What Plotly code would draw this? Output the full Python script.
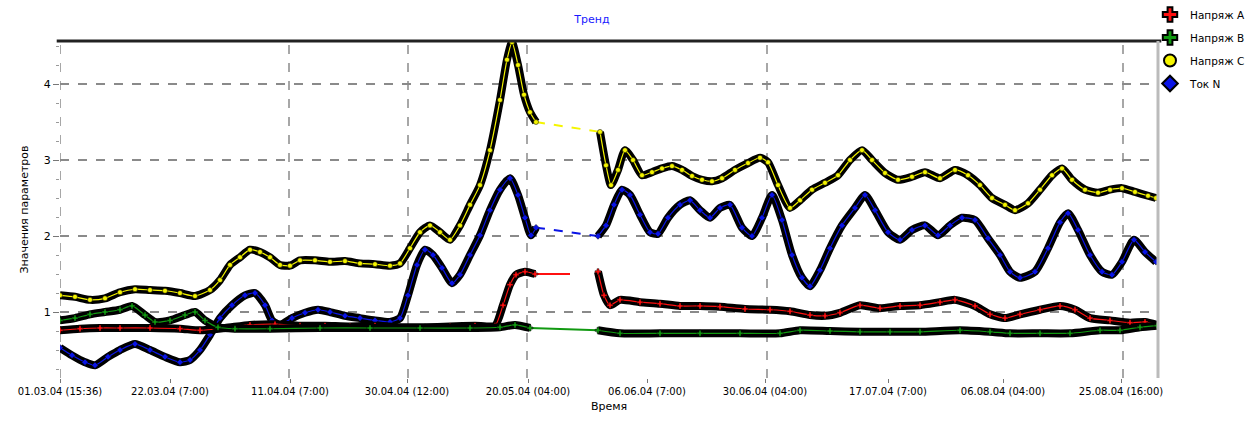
import plotly.graph_objects as go

# Sample position (time index) and values, two recorded segments per channel
yel_t1 = [0, 15, 30, 45, 60, 75, 90, 105, 120, 135, 150, 160, 170, 180, 190, 200, 210, 220, 230, 240, 255, 270,
          285, 300, 315, 330, 340, 350, 360, 370, 380, 390, 400, 410, 420, 430, 440, 447, 452, 458, 464, 470, 476]
yel_v1 = [1.22, 1.20, 1.16, 1.18, 1.26, 1.30, 1.29, 1.28, 1.25, 1.21, 1.29, 1.42, 1.62, 1.72, 1.82, 1.79, 1.72,
          1.62, 1.61, 1.68, 1.68, 1.66, 1.67, 1.64, 1.63, 1.61, 1.64, 1.84, 2.05, 2.14, 2.05, 1.95, 2.14, 2.41,
          2.67, 3.13, 3.79, 4.32, 4.55, 4.25, 3.86, 3.63, 3.50]
yel_t2 = [540, 546, 551, 558, 565, 573, 582, 592, 602, 612, 622, 632, 642, 652, 662, 675, 688, 700, 708, 718, 730,
          740, 752, 765, 778, 790, 802, 812, 825, 838, 852, 865, 880, 895, 908, 920, 932, 945, 955, 968, 980, 992,
          1002, 1012, 1025, 1038, 1050, 1062, 1075, 1088, 1096]
yel_v2 = [3.37, 2.93, 2.67, 2.87, 3.13, 3.00, 2.80, 2.84, 2.89, 2.92, 2.87, 2.79, 2.74, 2.72, 2.76, 2.87, 2.96,
          3.03, 2.97, 2.67, 2.37, 2.47, 2.61, 2.70, 2.80, 3.00, 3.13, 3.00, 2.83, 2.74, 2.78, 2.84, 2.76, 2.87,
          2.80, 2.67, 2.50, 2.41, 2.34, 2.43, 2.61, 2.80, 2.89, 2.74, 2.61, 2.57, 2.61, 2.63, 2.58, 2.53, 2.50]

blu_t1 = [0, 12, 25, 35, 48, 60, 75, 90, 105, 120, 130, 140, 150, 160, 172, 185, 195, 205, 212, 220, 232, 245,
          258, 270, 285, 300, 315, 330, 340, 348, 357, 365, 373, 382, 392, 400, 410, 420, 430, 440, 450, 458, 465,
          471, 476]
blu_v1 = [0.53, 0.43, 0.34, 0.30, 0.41, 0.50, 0.58, 0.50, 0.41, 0.34, 0.37, 0.50, 0.70, 0.92, 1.09, 1.22, 1.25,
          1.09, 0.89, 0.83, 0.92, 0.99, 1.03, 1.00, 0.95, 0.92, 0.89, 0.87, 0.92, 1.22, 1.62, 1.82, 1.75, 1.58,
          1.38, 1.49, 1.75, 2.01, 2.34, 2.61, 2.76, 2.54, 2.24, 2.01, 2.11]
blu_t2 = [538, 546, 554, 562, 570, 580, 590, 598, 608, 620, 630, 640, 650, 660, 670, 682, 692, 702, 712, 722, 732,
          742, 750, 760, 770, 782, 795, 805, 815, 828, 840, 852, 865, 878, 890, 902, 915, 928, 940, 950, 960, 975,
          988, 1000, 1008, 1018, 1030, 1042, 1052, 1062, 1074, 1085, 1096]
blu_v2 = [2.00, 2.14, 2.41, 2.61, 2.54, 2.28, 2.05, 2.03, 2.24, 2.41, 2.47, 2.34, 2.24, 2.37, 2.41, 2.11, 2.00,
          2.24, 2.54, 2.21, 1.75, 1.45, 1.34, 1.55, 1.84, 2.14, 2.37, 2.54, 2.34, 2.05, 1.95, 2.08, 2.14, 2.01,
          2.14, 2.24, 2.21, 1.97, 1.75, 1.53, 1.45, 1.53, 1.84, 2.18, 2.30, 2.08, 1.75, 1.53, 1.49, 1.66, 1.95,
          1.79, 1.66]

red_t1 = [0, 20, 40, 60, 90, 120, 140, 165, 190, 215, 240, 265, 290, 315, 340, 365, 390, 415, 435, 443, 450, 456,
          465, 475]
red_v1 = [0.76, 0.78, 0.79, 0.79, 0.79, 0.78, 0.76, 0.79, 0.83, 0.84, 0.82, 0.82, 0.81, 0.82, 0.80, 0.80, 0.81,
          0.82, 0.82, 1.09, 1.36, 1.49, 1.53, 1.50]
red_t2 = [538, 544, 550, 560, 580, 600, 620, 640, 660, 685, 710, 730, 750, 765, 780, 800, 820, 840, 860, 880, 895,
          915, 930, 945, 960, 980, 1000, 1015, 1030, 1050, 1070, 1085, 1097]
red_v2 = [1.53, 1.22, 1.09, 1.16, 1.13, 1.11, 1.08, 1.08, 1.07, 1.04, 1.03, 1.01, 0.96, 0.95, 0.99, 1.09, 1.05,
          1.08, 1.09, 1.13, 1.16, 1.08, 0.97, 0.92, 0.97, 1.03, 1.08, 1.03, 0.92, 0.89, 0.86, 0.87, 0.83]

grn_t1 = [0, 15, 30, 45, 60, 72, 85, 95, 110, 125, 135, 145, 158, 175, 210, 260, 310, 360, 410, 440, 455, 470]
grn_v1 = [0.89, 0.92, 0.97, 1.00, 1.03, 1.08, 0.96, 0.87, 0.89, 0.96, 1.00, 0.89, 0.80, 0.78, 0.78, 0.79, 0.79,
          0.79, 0.79, 0.80, 0.83, 0.79]
grn_t2 = [538, 560, 600, 640, 680, 720, 740, 770, 800, 830, 860, 900, 930, 950, 980, 1010, 1040, 1060, 1080, 1097]
grn_v2 = [0.76, 0.72, 0.72, 0.72, 0.72, 0.72, 0.76, 0.75, 0.74, 0.74, 0.74, 0.76, 0.74, 0.72, 0.72, 0.72, 0.76,
          0.76, 0.80, 0.82]

# Where a channel had no recorded samples, the trend joins the two segments
red_hold_end = 510

tick_t = [0, 110, 230, 347, 468, 587, 705, 828, 943, 1061]
tick_text = ["01.03.04 (15:36)", "22.03.04 (7:00)", "11.04.04 (7:00)", "30.04.04 (12:00)",
             "20.05.04 (04:00)", "06.06.04 (7:00)", "30.06.04 (04:00)", "17.07.04 (7:00)",
             "06.08.04 (04:00)", "25.08.04 (16:00)"]
grid_t = [0, 229, 348, 467, 707, 1063]

names = ["Напряж A", "Напряж B", "Напряж C", "Ток N"]

fig = go.Figure()

channels = [
    (names[2], "#f5f500", "circle", yel_t1, yel_v1, yel_t2, yel_v2, "dash"),
    (names[3], "#0a14e6", "diamond", blu_t1, blu_v1, blu_t2, blu_v2, "dash"),
    (names[0], "#ff1010", "cross", red_t1, red_v1, red_t2, red_v2, "solid"),
    (names[1], "#119911", "cross", grn_t1, grn_v1, grn_t2, grn_v2, "solid"),
]

for name, col, sym, t1, v1, t2, v2, gap_dash in channels:
    # join between the segments
    if name == names[0]:
        gx, gy = [t1[-1], red_hold_end], [v1[-1], v1[-1]]
    else:
        gx, gy = [t1[-1], t2[0]], [v1[-1], v2[0]]
    fig.add_trace(go.Scatter(x=gx, y=gy, mode="lines", showlegend=False, hoverinfo="skip",
                             line=dict(color=col, width=2, dash=gap_dash)))
    for tt, vv in ((t1, v1), (t2, v2)):
        # dark band of overlapping marker outlines
        fig.add_trace(go.Scatter(x=tt, y=vv, mode="lines", showlegend=False, hoverinfo="skip",
                                 line=dict(color="black", width=8, shape="spline", smoothing=0.6)))
        fig.add_trace(go.Scatter(x=tt, y=vv, mode="lines+markers", showlegend=False, name=name,
                                 line=dict(color=col, width=1.2, shape="spline", smoothing=0.6),
                                 marker=dict(symbol=sym, size=5, color=col,
                                             line=dict(color="black", width=0.5))))

# legend entries
for name, col, sym in [(names[0], "#ff1010", "cross"), (names[1], "#119911", "cross"),
                       (names[2], "#f5f500", "circle"), (names[3], "#0a14e6", "diamond")]:
    fig.add_trace(go.Scatter(x=[None], y=[None], mode="markers", name=name, legendgroup=name,
                             marker=dict(symbol=sym, size=8, color=col, line=dict(color="black", width=1))))

shapes = []
for g in grid_t:
    shapes.append(dict(type="line", xref="x", yref="paper", x0=g, x1=g, y0=0, y1=1,
                       line=dict(color="#8a8a8a", width=1.5, dash="dash"), layer="below"))
shapes.append(dict(type="line", xref="paper", yref="paper", x0=-0.003, x1=1.003, y0=1, y1=1,
                   line=dict(color="#222222", width=3)))
shapes.append(dict(type="line", xref="paper", yref="paper", x0=1, x1=1, y0=0, y1=1,
                   line=dict(color="#bbbbbb", width=3)))

fig.update_layout(
    width=1250, height=425,
    margin=dict(l=60, r=92, t=41, b=47, autoexpand=False),
    paper_bgcolor="white", plot_bgcolor="white",
    font=dict(family="DejaVu Sans", size=10, color="black"),
    title=dict(text="Тренд", x=0.4735, xanchor="center", y=0.955, yanchor="middle",
               font=dict(size=11, color="#1a1aff")),
    shapes=shapes,
    legend=dict(xref="container", yref="container", x=0.92, xanchor="left", y=1.024, yanchor="top",
                font=dict(size=10.5), tracegroupgap=4, itemsizing="constant", itemwidth=30,
                bgcolor="rgba(0,0,0,0)"),
    xaxis=dict(range=[0, 1098], tickmode="array", tickvals=tick_t, ticktext=tick_text,
               showgrid=False, zeroline=False, showline=False, ticks="outside", ticklen=4,
               tickcolor="#777777", tickfont=dict(size=10),
               title=dict(text="Время", font=dict(size=11), standoff=6)),
    yaxis=dict(range=[0.132, 4.566], tickvals=[1, 2, 3, 4], showgrid=True, gridcolor="#8a8a8a",
               griddash="dash", gridwidth=1.5, zeroline=False, showline=False, ticks="outside",
               ticklen=6, tickcolor="#777777", tickfont=dict(size=11),
               minor=dict(dtick=0.25, ticks="outside", ticklen=3, tickcolor="#999999", showgrid=False),
               title=dict(text="Значения параметров", font=dict(size=11, color="black"), standoff=12)),
)

fig.write_html("out.html")
